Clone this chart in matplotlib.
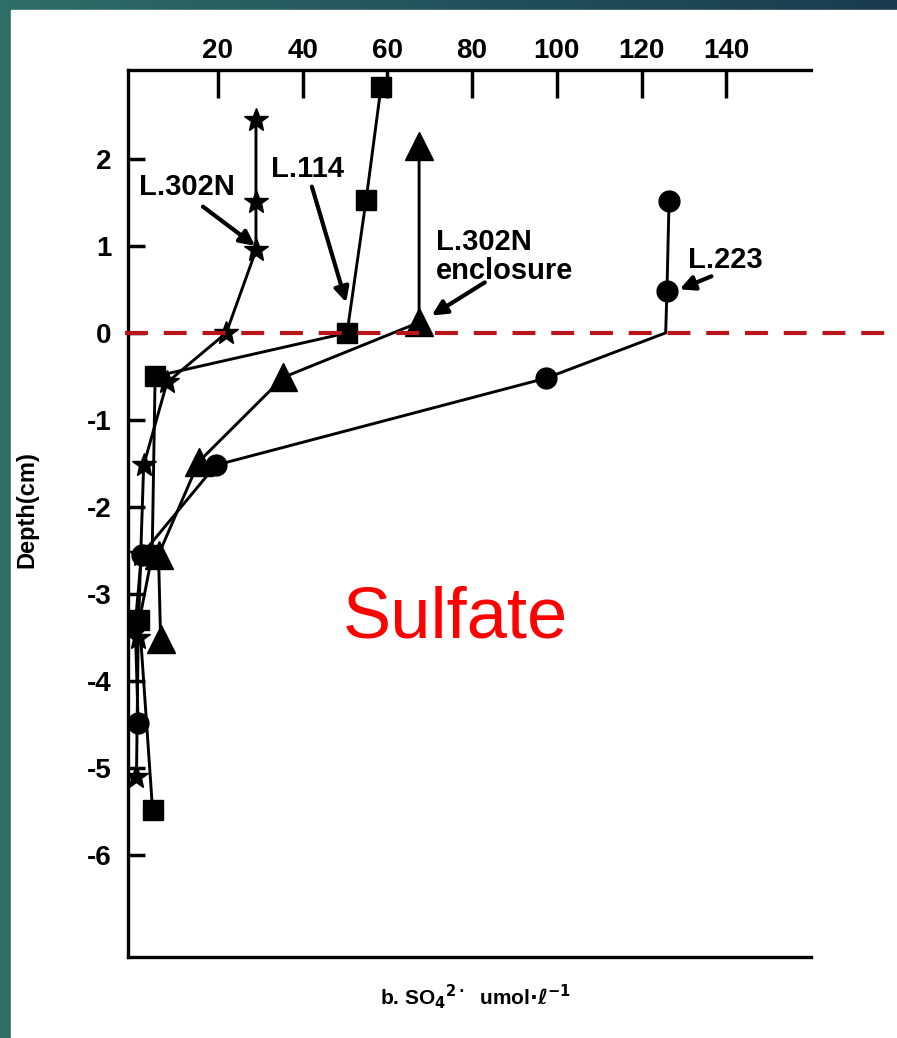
import matplotlib
matplotlib.use("Agg")
import matplotlib.pyplot as plt
import numpy as np
from matplotlib.patches import Rectangle

# sulfate profiles (umol/l) vs depth (cm)
star_x = [29, 29, 29, 22, 8, 2.5, 1.8, 1.2, 0.8]
star_y = [2.45, 1.5, 0.95, 0, -0.57, -1.52, -2.55, -3.5, -5.1]

sq_x = [58.5, 55, 50.5, 5.2, 4.5, 1.5, 4.6]
sq_y = [2.82, 1.53, 0, -0.5, -2.55, -3.3, -5.48]

tri_x = [67.5, 67.5, 35.5, 15.5, 6.0, 6.5]
tri_y = [2.15, 0.12, -0.51, -1.48, -2.55, -3.52]

circ_x = [126.5, 126, 125.7, 97.5, 19.5, 2.0, 0.5, 1.2]
circ_y = [1.52, 0.48, 0, -0.52, -1.52, -2.55, -3.35, -4.48]
circ_marked = [0, 1, 3, 4, 5, 6, 7]

xticks = [20, 40, 60, 80, 100, 120, 140]
yticks = [2, 1, 0, -1, -2, -3, -4, -5, -6]

plt.rcParams['font.family'] = ['Liberation Sans', 'DejaVu Sans']
plt.rcParams['mathtext.default'] = 'bf'

W, H = 897, 1038
fig = plt.figure(figsize=(W / 100, H / 100), dpi=100)

# teal slide frame behind the white page
bg = fig.add_axes([0, 0, 1, 1], zorder=-10)
grad = np.linspace(0, 1, 256).reshape(1, -1)
bg.imshow(grad, aspect='auto', extent=[0, 1, 0, 1],
          cmap=matplotlib.colors.LinearSegmentedColormap.from_list(
              "frame", ["#2f6d67", "#23525c", "#1a3b4e"]))
bg.add_patch(Rectangle((11 / W, 0), 1, 1 - 10 / H, color='white', zorder=2))
bg.set_xlim(0, 1)
bg.set_ylim(0, 1)
bg.axis('off')

ax = fig.add_axes([128 / W, 1 - 957 / H, (811 - 128) / W, (957 - 70) / H])
ax.set_xlim(-1.2, 160)
ax.set_ylim(-7.17, 3.02)

lw = 2.1
ax.plot(star_x, star_y, color='black', lw=lw, marker='*', ms=18, zorder=3)
ax.plot(sq_x, sq_y, color='black', lw=lw, marker='s', ms=14, zorder=3)
ax.plot(tri_x, tri_y, color='black', lw=lw, marker='^', ms=20, zorder=3)
ax.plot(circ_x, circ_y, color='black', lw=lw, marker='o', ms=15,
        markevery=circ_marked, zorder=3)

# sediment-water interface
ax.plot([-2, 181], [0, 0], color='#b8151b', lw=3, dashes=(5.5, 3.8),
        clip_on=False, zorder=4)

ax.spines['right'].set_visible(False)
for s in ['left', 'top', 'bottom']:
    ax.spines[s].set_linewidth(2.4)

ax.xaxis.tick_top()
ax.set_xticks(xticks)
ax.set_xticklabels([str(t) for t in xticks], fontsize=20, fontweight='bold')
ax.tick_params(axis='x', direction='in', length=20, width=2.5, pad=4)
ax.set_yticks(yticks)
ax.set_yticklabels([str(t) for t in yticks], fontsize=20, fontweight='bold')
ax.tick_params(axis='y', direction='in', length=12, width=2.5, pad=12)

fig.text(27 / W, 1 - 510 / H, "Depth(cm)", rotation=90, fontsize=17,
         fontweight='bold', ha='center', va='center')
fig.text(475 / W, 1 - 997 / H, r"b. SO$_4$$^{2\cdot}$  umol$\cdot$$\ell^{-1}$",
         ha='center', va='center', fontsize=15, fontweight='bold')

# labels and their pointer arrows
arrow = dict(arrowstyle='-|>', color='black', lw=3, mutation_scale=22,
             shrinkA=0, shrinkB=0)
lab = dict(fontsize=21, fontweight='bold', va='center')
ax.text(1.5, 1.68, "L.302N", **lab)
ax.annotate("", xy=(28.8, 1.0), xytext=(16.5, 1.45), arrowprops=arrow)
ax.text(32.5, 1.88, "L.114", **lab)
ax.annotate("", xy=(50.3, 0.35), xytext=(42.2, 1.68), arrowprops=arrow)
ax.text(71.5, 0.88, "L.302N\nenclosure", linespacing=1.05, **lab)
ax.annotate("", xy=(70.5, 0.2), xytext=(83, 0.58), arrowprops=arrow)
ax.text(131, 0.84, "L.223", **lab)
ax.annotate("", xy=(129, 0.5), xytext=(136.5, 0.65), arrowprops=arrow)

ax.text(76, -3.29, "Sulfate", color='#ff0000', fontsize=52,
        ha='center', va='center')

fig.savefig("out.png", dpi=100)
